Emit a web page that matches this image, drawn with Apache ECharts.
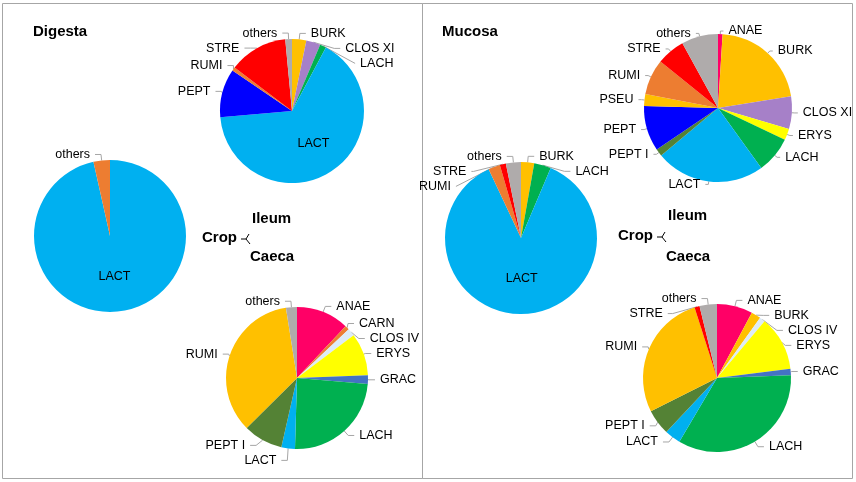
<!DOCTYPE html>
<html>
<head>
<meta charset="utf-8">
<script src="https://cdn.jsdelivr.net/npm/echarts@6/dist/echarts.min.js"></script>
<style>
  html, body { margin: 0; padding: 0; background: #fff; }
  #main { width: 856px; height: 482px; }
</style>
</head>
<body>
<div id="main"></div>
<script>
// percentages, clockwise from 12 o'clock
var ileumDigNames = ['BURK', 'CLOS XI', 'LACH', 'LACT', 'PEPT', 'RUMI', 'STRE', 'others'];
var ileumDigValues = [3.2, 3.2, 1.4, 65.8, 10.9, 0.8, 13.2, 1.5];

var cropDigNames = ['LACT', 'others'];
var cropDigValues = [96.5, 3.5];

var caecaDigNames = ['ANAE', 'CARN', 'CLOS IV', 'ERYS', 'GRAC', 'LACH', 'LACT', 'PEPT I', 'RUMI', 'others'];
var caecaDigValues = [12, 1, 1.7, 9.7, 2, 24.1, 3.1, 9, 35, 2.5];

var ileumMucNames = ['ANAE', 'BURK', 'CLOS XI', 'ERYS', 'LACH', 'LACT', 'PEPT I', 'PEPT', 'PSEU', 'RUMI', 'STRE', 'others'];
var ileumMucValues = [1, 21.5, 7.1, 2.5, 8, 23.9, 1.6, 9.9, 2.6, 7.8, 6.2, 8];

var cropMucNames = ['BURK', 'LACH', 'LACT', 'RUMI', 'STRE', 'others'];
var cropMucValues = [2.8, 3.6, 86.7, 2.5, 1.3, 3.2];

var caecaMucNames = ['ANAE', 'BURK', 'CLOS IV', 'ERYS', 'GRAC', 'LACH', 'LACT', 'PEPT I', 'RUMI', 'STRE', 'others'];
var caecaMucValues = [7.8, 2.1, 1.2, 11.9, 1.4, 34.1, 3.5, 5.6, 27.5, 1.1, 3.8];

var colors = {
    'ANAE': '#FF0066',
    'BURK': '#FFC000',
    'CARN': '#ED7D31',
    'CLOS IV': '#DDEBF7',
    'CLOS XI': '#A680C8',
    'ERYS': '#FFFF00',
    'GRAC': '#4472C4',
    'LACH': '#00B050',
    'LACT': '#00B0F0',
    'PEPT': '#0000FF',
    'PEPT I': '#548235',
    'PSEU': '#FFC000',
    'RUMI': '#ED7D31',
    'STRE': '#FF0000',
    'others': '#AFABAB'
};
// caeca pies use gold for RUMI, crop digesta uses orange for others
var caecaColors = { 'RUMI': '#FFC000' };
var cropDigColors = { 'others': '#ED7D31' };

var FONT = 'Liberation Sans, Arial, sans-serif';

function pie(names, values, center, radius, opts) {
    opts = opts || {};
    var len = opts.len || 6;
    return {
        type: 'pie',
        center: center,
        radius: radius,
        startAngle: 90,
        clockwise: true,
        silent: true,
        label: { color: '#000', fontSize: 12.5, fontFamily: FONT, overflow: 'none' },
        labelLine: { length: len, length2: len, lineStyle: { color: '#A6A6A6', width: 1 } },
        itemStyle: { borderWidth: 0 },
        data: names.map(function (n, i) {
            var d = {
                name: n,
                value: values[i],
                itemStyle: { color: (opts.colors && opts.colors[n]) || colors[n] }
            };
            if (n === opts.inside) {
                d.label = { position: 'inside' };
                d.labelLine = { show: false };
            }
            return d;
        })
    };
}

var chart = echarts.init(document.getElementById('main'), null, { renderer: 'canvas' });

// small fork between "Crop" and "Ileum / Caeca"
function fork(x, y) {
    return {
        type: 'polyline',
        shape: { points: [[x, y], [x + 5, y], [x + 8, y - 5]] },
        style: { stroke: '#000', lineWidth: 1, fill: null }
    };
}
function fork2(x, y) {
    return {
        type: 'line',
        shape: { x1: x + 5, y1: y, x2: x + 9, y2: y + 5 },
        style: { stroke: '#000', lineWidth: 1 }
    };
}
function bold(text, x, y) {
    return {
        type: 'text', left: x, top: y,
        style: { text: text, font: 'bold 15px ' + FONT, fill: '#000' }
    };
}

var option = {
    backgroundColor: '#fff',
    animation: false,
    graphic: [
        { type: 'rect', shape: { x: 2.5, y: 3.5, width: 420, height: 475 }, style: { stroke: '#A6A6A6', fill: null, lineWidth: 1 } },
        { type: 'rect', shape: { x: 422.5, y: 3.5, width: 430, height: 475 }, style: { stroke: '#A6A6A6', fill: null, lineWidth: 1 } },
        bold('Digesta', 33, 24),
        bold('Mucosa', 442, 24),
        bold('Ileum', 252, 211),
        bold('Crop', 202, 230),
        bold('Caeca', 250, 249),
        fork(241, 239), fork2(241, 239),
        bold('Ileum', 668, 208),
        bold('Crop', 618, 228),
        bold('Caeca', 666, 249),
        fork(657, 237), fork2(657, 237)
    ],
    series: [
        pie(ileumDigNames, ileumDigValues, [292, 111], 72, { inside: 'LACT' }),
        pie(cropDigNames, cropDigValues, [110, 236], 76, { inside: 'LACT', colors: cropDigColors }),
        pie(caecaDigNames, caecaDigValues, [297, 378], 71, { colors: caecaColors }),
        pie(ileumMucNames, ileumMucValues, [718, 108], 74, { len: 3 }),
        pie(cropMucNames, cropMucValues, [521, 238], 76, { inside: 'LACT' }),
        pie(caecaMucNames, caecaMucValues, [717, 378], 74, { colors: caecaColors })
    ]
};

chart.setOption(option);
</script>
</body>
</html>
